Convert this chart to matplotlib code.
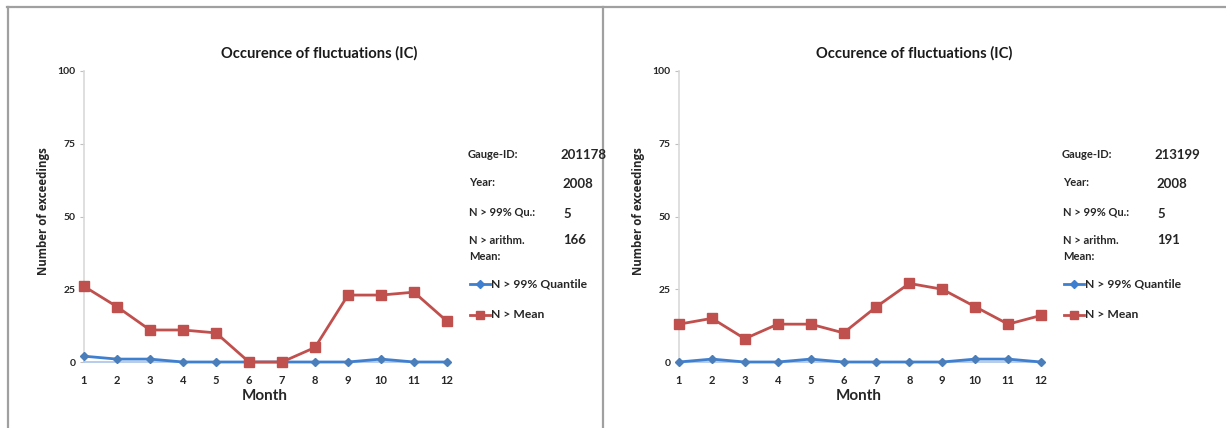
import matplotlib
matplotlib.use("Agg")
import matplotlib.pyplot as plt
from matplotlib.lines import Line2D

months = list(range(1, 13))

# Gauge 201178
left_gauge = "201178"
left_quantile = [2, 1, 1, 0, 0, 0, 0, 0, 0, 1, 0, 0]
left_mean = [26, 19, 11, 11, 10, 0, 0, 5, 23, 23, 24, 14]
left_n_quantile = "5"
left_n_mean = "166"

# Gauge 213199
right_gauge = "213199"
right_quantile = [0, 1, 0, 0, 1, 0, 0, 0, 0, 1, 1, 0]
right_mean = [13, 15, 8, 13, 13, 10, 19, 27, 25, 19, 13, 16]
right_n_quantile = "5"
right_n_mean = "191"

year = "2008"
title = "Occurence of fluctuations (IC)"
y_ticks = [0, 25, 50, 75, 100]

BLUE = "#3f7fcf"
BLUE_MK = "#4a7ebb"
RED = "#c0504d"
TXT = "#262626"
FONT = "Lato"

W, H = 1226, 428
fig = plt.figure(figsize=(W / 100, H / 100), dpi=100)


def fx(x):
    return x / W


def fy(y):
    return 1 - y / H


# frame lines around the two panels
border = "#a0a0a0"
fig.add_artist(Line2D([fx(7), fx(1225)], [fy(6.5), fy(6.5)], color=border, lw=1.6))
fig.add_artist(Line2D([fx(7.5), fx(7.5)], [fy(6.5), fy(428)], color=border, lw=1.6))
fig.add_artist(Line2D([fx(602.5), fx(602.5)], [fy(6.5), fy(428)], color=border, lw=1.6))


def legend_entry(x, y, color, marker, ms):
    """Short line with a centred marker, drawn in figure pixels."""
    xs = [fx(x), fx(x + 10), fx(x + 20)]
    ys = [fy(y)] * 3
    fig.add_artist(Line2D(xs, ys, color=color, lw=2))
    fig.add_artist(Line2D([xs[1]], [ys[1]], ls="none", marker=marker, ms=ms,
                          mfc=color, mec=color))


def panel(x0, x1, gauge, quant, mean, n_q, n_m):
    ax = fig.add_axes([fx(x0), fy(362), fx(x1) - fx(x0), fy(71) - fy(362)])
    ax.set_xlim(1, 12)
    ax.set_ylim(0, 100)
    ax.plot(months, quant, color=BLUE, lw=2, marker="D", ms=4.5,
            mfc=BLUE_MK, mec=BLUE_MK, clip_on=False, zorder=3)
    ax.plot(months, mean, color=RED, lw=2, marker="s", ms=6.8,
            mfc=RED, mec=RED, clip_on=False, zorder=4)
    for s in ["top", "right"]:
        ax.spines[s].set_visible(False)
    ax.spines["left"].set_color("#d9d9d9")
    ax.spines["bottom"].set_color("#a9c4e8")
    ax.spines["left"].set_linewidth(1.2)
    ax.spines["bottom"].set_linewidth(1.2)
    ax.set_yticks(y_ticks)
    ax.set_xticks(months)
    ax.tick_params(axis="y", length=3, color="#bfbfbf", labelsize=7.5,
                   labelcolor=TXT, pad=3)
    ax.tick_params(axis="x", length=0, labelsize=8, labelcolor=TXT, pad=9)
    for lab in ax.get_xticklabels() + ax.get_yticklabels():
        lab.set_fontfamily(FONT)
        lab.set_fontweight("bold")

    mid = (x0 + x1) / 2
    fig.text(fx(mid + 54), fy(53), title, ha="center", va="center",
             fontsize=10.6, fontweight="bold", family=FONT, color="#1a1a1a")
    fig.text(fx(mid - 1), fy(396), "Month", ha="center", va="center",
             fontsize=11, fontweight="bold", family=FONT, color=TXT)
    fig.text(fx(x0 - 41), fy(211), "Number of exceedings", ha="center",
             va="center", rotation=90, fontsize=8.3, fontweight="bold",
             family="Open Sans", color=TXT)

    lx = x1 + 21
    vx = x1 + 113
    kw = dict(ha="left", va="center", family=FONT, color=TXT, fontweight="bold")
    fig.text(fx(lx), fy(154), "Gauge-ID:", fontsize=8, **kw)
    fig.text(fx(vx), fy(155), gauge, fontsize=9.5, **kw)
    fig.text(fx(lx + 1), fy(183), "Year:", fontsize=8, **kw)
    fig.text(fx(vx + 2), fy(184), year, fontsize=9.5, **kw)
    fig.text(fx(lx + 1), fy(212), "N > 99% Qu.:", fontsize=8, **kw)
    fig.text(fx(vx + 3), fy(214), n_q, fontsize=9.5, **kw)
    fig.text(fx(lx + 1), fy(241), "N > arithm.", fontsize=8, **kw)
    fig.text(fx(lx + 1), fy(256), "Mean:", fontsize=8, **kw)
    fig.text(fx(vx + 3), fy(240), n_m, fontsize=9.5, **kw)

    legend_entry(lx + 2, 284, BLUE, "D", 4)
    fig.text(fx(lx + 23), fy(284), "N > 99% Quantile", fontsize=8.7, **kw)
    legend_entry(lx + 2, 315, RED, "s", 6)
    fig.text(fx(lx + 23), fy(315), "N > Mean", fontsize=8.7, **kw)


panel(84, 447, left_gauge, left_quantile, left_mean, left_n_quantile, left_n_mean)
panel(679, 1041, right_gauge, right_quantile, right_mean, right_n_quantile, right_n_mean)

fig.savefig("out.png", dpi=100)
